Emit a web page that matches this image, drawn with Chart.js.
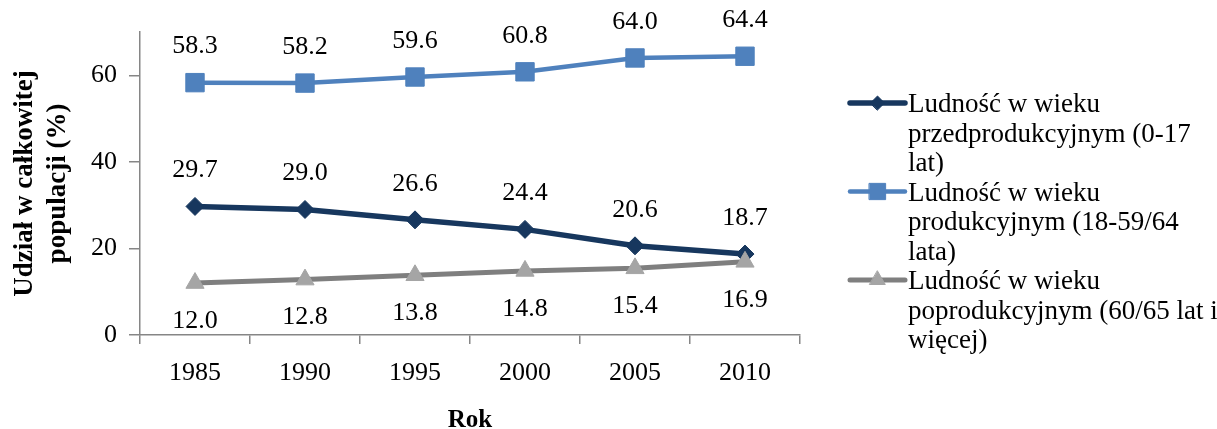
<!DOCTYPE html>
<html>
<head>
<meta charset="utf-8">
<script src="https://cdn.jsdelivr.net/npm/chart.js@4.4.1/dist/chart.umd.min.js"></script>
<style>
  html, body { margin: 0; padding: 0; background: #ffffff; }
  canvas { display: block; }
</style>
</head>
<body>
<canvas id="chart" width="1217" height="429"></canvas>
<script>
// Population structure by age group, share of total population (%)
const years = ['1985', '1990', '1995', '2000', '2005', '2010'];
const preWorking = [29.7, 29.0, 26.6, 24.4, 20.6, 18.7];
const working = [58.3, 58.2, 59.6, 60.8, 64.0, 64.4];
const postWorking = [12.0, 12.8, 13.8, 14.8, 15.4, 16.9];
const seriesNames = [
  'Ludność w wieku przedprodukcyjnym (0-17 lat)',
  'Ludność w wieku produkcyjnym (18-59/64 lata)',
  'Ludność w wieku poprodukcyjnym (60/65 lat i więcej)'
];
const yTicks = [0, 20, 40, 60];
const yMax = 70;
const yTitle = ['Udział w całkowitej', 'populacji (%)'];
const xTitle = 'Rok';

const FONT = '"Liberation Serif", "Times New Roman", serif';
const AXIS_GREY = '#868686';

// Value labels above (negative shift) or below (positive shift) each point
const valueLabels = {
  id: 'valueLabels',
  afterDatasetsDraw(chart) {
    const ctx = chart.ctx;
    ctx.save();
    ctx.font = '26px ' + FONT;
    ctx.fillStyle = '#000';
    ctx.textAlign = 'center';
    ctx.textBaseline = 'middle';
    chart.data.datasets.forEach((ds, i) => {
      const meta = chart.getDatasetMeta(i);
      meta.data.forEach((pt, j) => {
        ctx.fillText(ds.data[j].toFixed(1), pt.x, pt.y + ds.labelShift);
      });
    });
    ctx.restore();
  }
};

// Legend on the right with wrapped series names
const sideLegend = {
  id: 'sideLegend',
  afterDraw(chart) {
    const ctx = chart.ctx;
    const lineX0 = 850, lineX1 = 905, textX = 908, maxW = 316, lh = 29.5;
    let y = 105;
    ctx.save();
    chart.data.datasets.forEach(ds => {
      // symbol: line with the series marker in the middle
      ctx.strokeStyle = ds.borderColor;
      ctx.lineWidth = ds.borderWidth;
      ctx.lineCap = 'round';
      ctx.beginPath();
      ctx.moveTo(lineX0, y - 2);
      ctx.lineTo(lineX1, y - 2);
      ctx.stroke();
      ctx.fillStyle = ds.pointBackgroundColor;
      ctx.strokeStyle = ds.pointBorderColor;
      ctx.lineWidth = 1;
      Chart.helpers.drawPoint(ctx, {
        pointStyle: ds.pointStyle,
        radius: ds.legendRadius,
        borderWidth: 1,
        rotation: 0
      }, (lineX0 + lineX1) / 2, y - 2);
      // wrapped text
      ctx.font = '27px ' + FONT;
      const words = ds.label.split(' ');
      const lines = [];
      let cur = '';
      words.forEach(w => {
        const test = cur ? cur + ' ' + w : w;
        if (ctx.measureText(test).width > maxW && cur) { lines.push(cur); cur = w; }
        else cur = test;
      });
      if (cur) lines.push(cur);
      ctx.fillStyle = '#000';
      ctx.textAlign = 'left';
      ctx.textBaseline = 'middle';
      lines.forEach(l => { ctx.fillText(l, textX, y); y += lh; });
    });
    ctx.restore();
  }
};

new Chart(document.getElementById('chart'), {
  type: 'line',
  data: {
    labels: years,
    datasets: [
      {
        label: seriesNames[0],
        data: preWorking,
        borderColor: '#17375E',
        borderWidth: 5.5,
        pointStyle: 'rectRot',
        pointRadius: 9,
        legendRadius: 7,
        pointBackgroundColor: '#17375E',
        pointBorderColor: '#17375E',
        pointBorderWidth: 1,
        labelShift: -36,
        order: 2
      },
      {
        label: seriesNames[1],
        data: working,
        borderColor: '#4F81BD',
        borderWidth: 4.5,
        pointStyle: 'rect',
        pointRadius: 13,
        legendRadius: 11.5,
        pointBackgroundColor: '#4F81BD',
        pointBorderColor: '#4F81BD',
        pointBorderWidth: 1,
        labelShift: -36,
        order: 1
      },
      {
        label: seriesNames[2],
        data: postWorking,
        borderColor: '#7F7F7F',
        borderWidth: 5,
        pointStyle: 'triangle',
        pointRadius: 10.5,
        legendRadius: 9,
        pointBackgroundColor: '#A5A5A5',
        pointBorderColor: '#A5A5A5',
        pointBorderWidth: 1,
        labelShift: 38,
        order: 0
      }
    ]
  },
  options: {
    responsive: false,
    animation: false,
    events: [],
    layout: { padding: { left: 0, top: 32, right: 417, bottom: 0 } },
    plugins: { legend: { display: false }, tooltip: { enabled: false } },
    elements: { line: { tension: 0 } },
    scales: {
      x: {
        type: 'category',
        offset: true,
        grid: { offset: true, drawOnChartArea: false, drawTicks: true, tickLength: 9, color: AXIS_GREY, lineWidth: 1.5 },
        border: { display: true, color: AXIS_GREY, width: 1.5 },
        ticks: { color: '#000', font: { family: FONT, size: 26 }, padding: 14, maxRotation: 0, autoSkip: false },
        title: { display: true, text: xTitle, color: '#000', font: { family: FONT, size: 25, weight: 'bold', lineHeight: 0.7 }, padding: 0 },
        afterFit(scale) { scale.height = 94; }
      },
      y: {
        min: 0,
        max: yMax,
        afterBuildTicks(scale) { scale.ticks = yTicks.map(v => ({ value: v })); },
        grid: { drawOnChartArea: false, drawTicks: true, tickLength: 11, color: AXIS_GREY, lineWidth: 1.5 },
        border: { display: true, color: AXIS_GREY, width: 1.5 },
        ticks: { color: '#000', font: { family: FONT, size: 26 }, padding: 12 },
        title: { display: true, text: yTitle, color: '#000', font: { family: FONT, size: 27, weight: 'bold', lineHeight: 1.2 }, padding: { top: 9, bottom: 0 } },
        afterFit(scale) { scale.width = 140; }
      }
    }
  },
  plugins: [valueLabels, sideLegend]
});
</script>
</body>
</html>
